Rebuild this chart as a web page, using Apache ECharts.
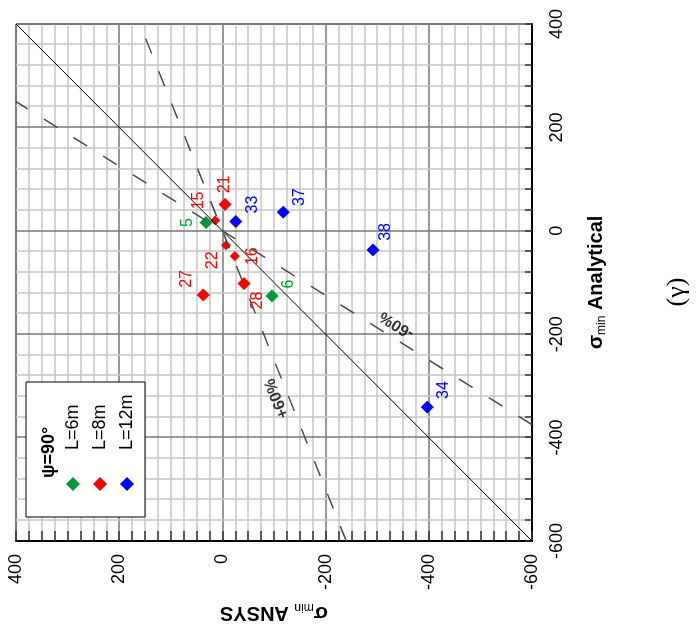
<!DOCTYPE html>
<html>
<head>
<meta charset="utf-8">
<script src="https://cdn.jsdelivr.net/npm/echarts@6/dist/echarts.min.js"></script>
<style>
  html, body { margin: 0; padding: 0; background: #fff; width: 696px; height: 624px; overflow: hidden; }
  /* The figure is laid out upright (624 x 696) and then turned a quarter turn counter-clockwise. */
  #chart {
    position: absolute; left: 0; top: 0;
    width: 624px; height: 696px;
    transform-origin: 0 0;
    transform: translate(0, 624px) rotate(-90deg);
  }
</style>
</head>
<body>
<div id="chart"></div>
<script>
// Minimum principal stress: analytical solution vs. ANSYS model, ψ = 90°
const axisMin = -600;
const axisMax = 400;
const axisStep = 200;

// L = 6 m
const idsL6 = ['5', '6'];
const analyticalL6 = [16, -126];
const ansysL6 = [32, -96];

// L = 8 m
const idsL8 = ['15', '21', '22', '16', '27', '28'];
const analyticalL8 = [20, 51, -28, -49, -124, -102];
const ansysL8 = [14, -5, -7, -24, 37, -42];

// L = 12 m
const idsL12 = ['33', '37', '38', '34'];
const analyticalL12 = [18, 36, -37, -341];
const ansysL12 = [-26, -118, -292, -397];

const groupNames = ['L=6m', 'L=8m', 'L=12m'];

// Reference lines ANSYS = k · Analytical
const deviationFactors = [0.4, 1.6];
const deviationTexts = ['+60%', '-60%'];

// ---- styling / layout ----
const FONT = '"Liberation Sans", Arial, sans-serif';
const colors = { 'L=6m': '#009933', 'L=8m': '#ff0000', 'L=12m': '#0000ff' };

// where each point's number sits relative to its marker (px)
const labelOffsets = {
  '5': [0, -18], '6': [12, 17],
  '15': [20, -17], '21': [20, 0], '22': [-15, -13], '16': [0, 18], '27': [16, -17], '28': [-17, 14],
  '33': [17, 17], '37': [15, 16], '38': [18, 13], '34': [17, 16]
};
const smallMarks = new Set(['15', '22', '16']);

// anchor of each deviation caption, in data units [analytical, ansys]
const deviationTextAnchors = [[-324, -106], [-182, -338]];

function buildPoints(ids, xs, ys) {
  return ids.map((id, i) => ({
    name: id,
    value: [xs[i], ys[i]],
    symbolSize: smallMarks.has(id) ? 10 : 13,
    label: { offset: labelOffsets[id] }
  }));
}

function linePoints(k) {
  const lo = Math.max(axisMin, axisMin / k);
  const hi = Math.min(axisMax, axisMax / k);
  return [[lo, k * lo], [hi, k * hi]];
}

function groupSeries(name, ids, xs, ys, z) {
  return {
    name: name,
    type: 'scatter',
    symbol: 'diamond',
    data: buildPoints(ids, xs, ys),
    itemStyle: { color: colors[name], opacity: 1 },
    label: {
      show: true, position: 'inside',
      formatter: p => p.name,
      color: colors[name], fontSize: 16, fontFamily: FONT
    },
    emphasis: { disabled: true },
    z: z
  };
}

const series = [
  groupSeries('L=8m', idsL8, analyticalL8, ansysL8, 2),
  groupSeries('L=6m', idsL6, analyticalL6, ansysL6, 3),
  groupSeries('L=12m', idsL12, analyticalL12, ansysL12, 3),
  {
    type: 'line', data: linePoints(1), symbol: 'none', silent: true,
    lineStyle: { color: '#000', width: 1 }, z: 4
  }
];
deviationFactors.forEach((k, i) => {
  series.push({
    type: 'line', data: linePoints(k), symbol: 'none', silent: true,
    lineStyle: { color: '#4a4a4a', width: 1.5, type: [16, 19] }, z: 4
  });
  series.push({
    type: 'scatter', silent: true, symbolSize: 1,
    itemStyle: { color: 'rgba(0,0,0,0)' },
    data: [{ name: deviationTexts[i], value: deviationTextAnchors[i] }],
    label: {
      show: true, position: 'inside', formatter: p => p.name,
      rotate: Math.atan(k) * 180 / Math.PI,
      color: '#000', fontSize: 16, fontWeight: 'bold', fontFamily: FONT
    },
    z: 5
  });
});

const nameRich = {
  s: { fontSize: 21, fontWeight: 'bold', fontFamily: FONT, color: '#000', lineHeight: 24 },
  sub: { fontSize: 12, fontFamily: FONT, color: '#000', lineHeight: 4, verticalAlign: 'bottom' },
  t: { fontSize: 20, fontWeight: 'bold', fontFamily: FONT, color: '#000', lineHeight: 24 }
};

const chart = echarts.init(document.getElementById('chart'), null, { renderer: 'canvas' });
chart.setOption({
  animation: false,
  backgroundColor: '#fff',
  grid: {
    left: 83, right: 24, top: 16, bottom: 164,
    outerBoundsMode: 'none', containLabel: false,
    show: true, borderColor: '#000', borderWidth: 1, backgroundColor: '#fff'
  },
  xAxis: {
    type: 'value', min: axisMin, max: axisMax, interval: axisStep,
    name: '{s|σ}{sub|min}{t| Analytical}',
    nameLocation: 'middle', nameGap: 52,
    nameTextStyle: { rich: nameRich },
    axisLine: { onZero: false, lineStyle: { color: '#000', width: 2 } },
    axisTick: { show: true, inside: true, length: 7, lineStyle: { color: '#333', width: 1.5 } },
    minorTick: { show: true, splitNumber: 5, length: 7, lineStyle: { color: '#333', width: 1.5 } },
    axisLabel: { fontSize: 18, fontFamily: FONT, color: '#000', margin: 16 },
    splitLine: { show: true, lineStyle: { color: '#777', width: 1.5 } },
    minorSplitLine: { show: true, lineStyle: { color: '#c6c6c6', width: 1.5 } }
  },
  yAxis: {
    type: 'value', min: axisMin, max: axisMax, interval: axisStep,
    name: '{s|σ}{sub|min}{t| ANSYS}',
    nameLocation: 'middle', nameGap: 54, nameRotate: 90,
    nameTextStyle: { rich: nameRich },
    axisLine: { onZero: false, lineStyle: { color: '#000', width: 2 } },
    axisTick: { show: true, inside: true, length: 10, lineStyle: { color: '#333', width: 1.5 } },
    minorTick: { show: true, splitNumber: 8, length: 10, lineStyle: { color: '#333', width: 1.5 } },
    axisLabel: { fontSize: 18, fontFamily: FONT, color: '#000', margin: 13 },
    splitLine: { show: true, lineStyle: { color: '#777', width: 1.5 } },
    minorSplitLine: { show: true, lineStyle: { color: '#c6c6c6', width: 1.5 } }
  },
  legend: {
    data: groupNames,
    orient: 'vertical',
    left: 128, top: 59,
    itemWidth: 14, itemHeight: 14, itemGap: 9,
    icon: 'diamond',
    selectedMode: false,
    textStyle: { fontSize: 18, fontFamily: FONT, color: '#000', padding: [0, 0, 0, 22] },
    z: 6
  },
  graphic: [
    {
      type: 'rect', z: 5, silent: true,
      shape: { x: 107, y: 26, width: 135, height: 119 },
      style: { fill: '#fff', stroke: '#000', lineWidth: 1 }
    },
    {
      type: 'text', z: 7, silent: true, x: 146, y: 49,
      style: { text: 'ψ=90°', fontSize: 18, fontWeight: 'bold', fontFamily: FONT, fill: '#000', verticalAlign: 'middle' }
    },
    {
      type: 'text', z: 7, silent: true, x: 332, y: 677,
      style: { text: '(γ)', fontSize: 26, fontFamily: '"Liberation Serif", "Times New Roman", serif', fill: '#000', align: 'center', verticalAlign: 'middle' }
    }
  ],
  series: series
});
</script>
</body>
</html>
